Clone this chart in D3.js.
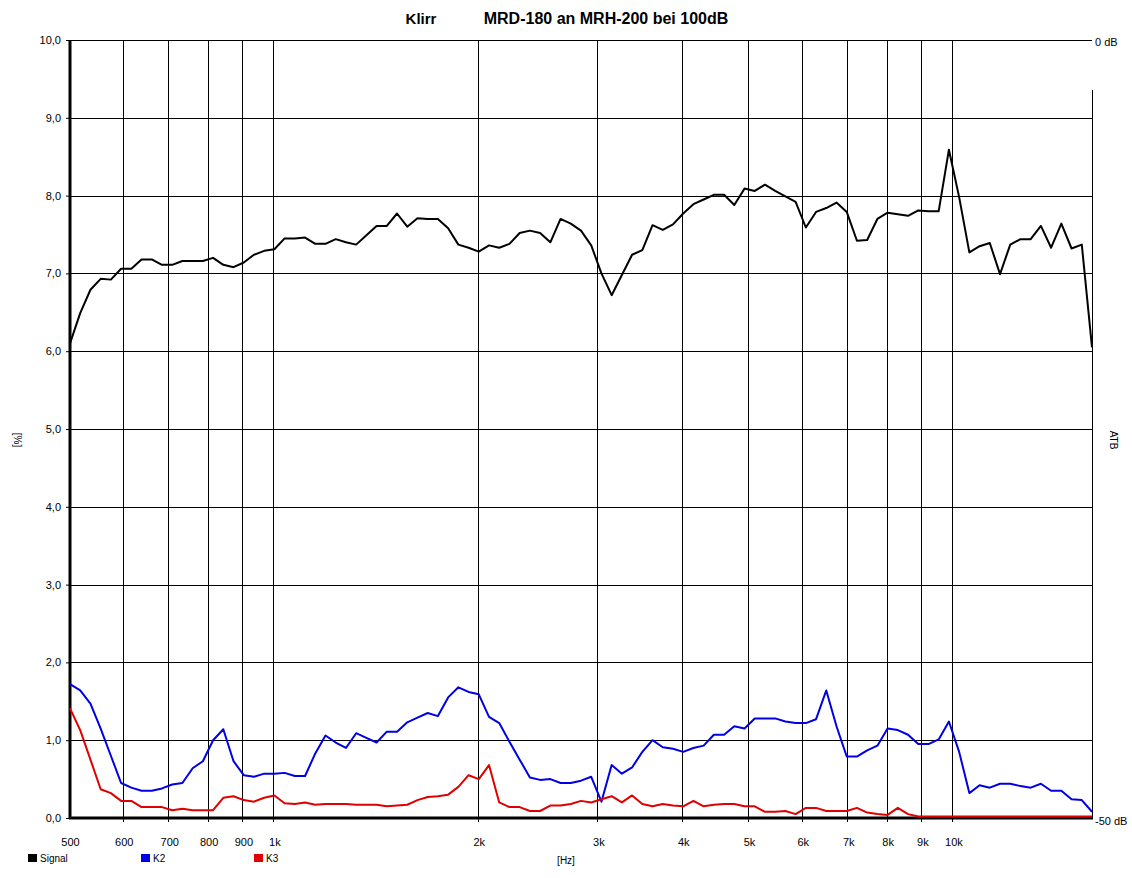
<!DOCTYPE html>
<html>
<head>
<meta charset="utf-8">
<script src="https://cdn.jsdelivr.net/npm/d3@7"></script>
<style>
  html, body { margin: 0; padding: 0; background: #fff; }
  svg { display: block; font-family: "Liberation Sans", Arial, sans-serif; }
</style>
</head>
<body>
<svg id="chart" width="1132" height="878"></svg>
<script>
// ---- Data (1/20-octave frequency grid, 500 Hz .. 16 kHz) ----
const frequencies = [
  500, 517.6, 535.9, 554.8, 574.3, 594.6, 615.6, 637.3, 659.8, 683.0,
  707.1, 732.0, 757.9, 784.6, 812.3, 840.9, 870.6, 901.3, 933.0, 965.9,
  1000, 1035.3, 1071.8, 1109.6, 1148.7, 1189.2, 1231.1, 1274.6, 1319.5, 1366.1,
  1414.2, 1464.1, 1515.7, 1569.2, 1624.5, 1681.8, 1741.1, 1802.5, 1866.1, 1931.9,
  2000, 2070.5, 2143.5, 2219.1, 2297.4, 2378.4, 2462.3, 2549.1, 2639.0, 2732.1,
  2828.4, 2928.2, 3031.4, 3138.4, 3249.0, 3363.6, 3482.2, 3605.0, 3732.2, 3863.8,
  4000, 4141.0, 4287.1, 4438.2, 4594.8, 4756.8, 4924.6, 5098.2, 5278.0, 5464.2,
  5656.9, 5856.4, 6062.9, 6276.7, 6498.0, 6727.2, 6964.4, 7210.0, 7464.3, 7727.5,
  8000, 8282.1, 8574.2, 8876.6, 9189.6, 9513.7, 9849.2, 10196.5, 10556.1, 10928.3,
  11313.7, 11712.7, 12125.7, 12553.3, 12996.0, 13454.3, 13928.8, 14420.0, 14928.5, 15455.0,
  16000
];

const signalValues = [
  6.10, 6.49, 6.79, 6.93, 6.92, 7.06, 7.06, 7.18, 7.18, 7.11,
  7.11, 7.16, 7.16, 7.16, 7.20, 7.11, 7.08, 7.14, 7.24, 7.29,
  7.31, 7.45, 7.45, 7.46, 7.38, 7.38, 7.44, 7.40, 7.37, 7.49,
  7.61, 7.61, 7.77, 7.60, 7.71, 7.70, 7.70, 7.58, 7.37, 7.33,
  7.28, 7.36, 7.33, 7.38, 7.52, 7.55, 7.52, 7.40, 7.70, 7.64,
  7.55, 7.36, 7.00, 6.72, 6.98, 7.24, 7.30, 7.62, 7.56, 7.63,
  7.77, 7.89, 7.95, 8.01, 8.01, 7.88, 8.09, 8.06, 8.14, 8.06,
  7.99, 7.92, 7.59, 7.79, 7.84, 7.91, 7.79, 7.42, 7.43, 7.70,
  7.78, 7.76, 7.74, 7.81, 7.80, 7.80, 8.59, 7.98, 7.27, 7.35,
  7.39, 6.99, 7.37, 7.44, 7.44, 7.61, 7.33, 7.64, 7.32, 7.37,
  6.05
];

const k2Values = [
  1.72, 1.64, 1.47, 1.15, 0.80, 0.45, 0.39, 0.35, 0.35, 0.38,
  0.43, 0.45, 0.64, 0.73, 1.00, 1.14, 0.73, 0.55, 0.53, 0.57,
  0.57, 0.58, 0.54, 0.54, 0.83, 1.06, 0.97, 0.90, 1.09, 1.03,
  0.97, 1.11, 1.11, 1.23, 1.29, 1.35, 1.31, 1.55, 1.68, 1.62,
  1.59, 1.30, 1.22, 0.98, 0.75, 0.52, 0.49, 0.50, 0.45, 0.45,
  0.48, 0.53, 0.21, 0.68, 0.57, 0.65, 0.85, 1.00, 0.91, 0.89,
  0.85, 0.90, 0.93, 1.07, 1.07, 1.18, 1.15, 1.28, 1.28, 1.28,
  1.24, 1.22, 1.22, 1.27, 1.64, 1.18, 0.79, 0.79, 0.87, 0.93,
  1.15, 1.13, 1.07, 0.95, 0.95, 1.01, 1.24, 0.85, 0.32, 0.42,
  0.39, 0.44, 0.44, 0.41, 0.39, 0.44, 0.35, 0.35, 0.24, 0.23,
  0.08
];

const k3Values = [
  1.41, 1.13, 0.75, 0.37, 0.32, 0.22, 0.22, 0.14, 0.14, 0.14,
  0.10, 0.12, 0.10, 0.10, 0.10, 0.26, 0.28, 0.23, 0.21, 0.26,
  0.29, 0.19, 0.18, 0.20, 0.17, 0.18, 0.18, 0.18, 0.17, 0.17,
  0.17, 0.15, 0.16, 0.17, 0.23, 0.27, 0.28, 0.30, 0.40, 0.55,
  0.50, 0.68, 0.20, 0.14, 0.14, 0.09, 0.09, 0.16, 0.16, 0.18,
  0.22, 0.20, 0.24, 0.28, 0.20, 0.29, 0.18, 0.15, 0.18, 0.16,
  0.15, 0.22, 0.15, 0.17, 0.18, 0.18, 0.15, 0.15, 0.08, 0.08,
  0.09, 0.05, 0.13, 0.13, 0.09, 0.09, 0.09, 0.13, 0.07, 0.05,
  0.04, 0.13, 0.05, 0.02, 0.02, 0.02, 0.02, 0.02, 0.02, 0.02,
  0.02, 0.02, 0.02, 0.02, 0.02, 0.02, 0.02, 0.02, 0.02, 0.02,
  0.02
];

const xTickValues = [500, 600, 700, 800, 900, 1000, 2000, 3000, 4000, 5000, 6000, 7000, 8000, 9000, 10000];
const xTickLabels = ["500", "600", "700", "800", "900", "1k", "2k", "3k", "4k", "5k", "6k", "7k", "8k", "9k", "10k"];
const yTickValues = [0, 1, 2, 3, 4, 5, 6, 7, 8, 9, 10];
const yTickLabels = ["0,0", "1,0", "2,0", "3,0", "4,0", "5,0", "6,0", "7,0", "8,0", "9,0", "10,0"];

const seriesNames = ["Signal", "K2", "K3"];
const seriesColors = ["#000000", "#0000e6", "#e00000"];

// ---- Layout ----
const L = 70, R = 1092, T = 40, B = 818;
const svg = d3.select("#chart");

const x = d3.scaleLog().domain([500, 16000]).range([L, R]);
const y = d3.scaleLinear().domain([0, 10]).range([B, T]);

// Horizontal grid lines
svg.append("g")
  .selectAll("line")
  .data(yTickValues.filter(v => v > 0))
  .join("line")
  .attr("x1", L).attr("x2", R)
  .attr("y1", d => Math.round(y(d)) + 0.5).attr("y2", d => Math.round(y(d)) + 0.5)
  .attr("stroke", "#000").attr("stroke-width", 1);

// Vertical grid lines (extend slightly below the axis as ticks)
svg.append("g")
  .selectAll("line")
  .data(xTickValues.filter(v => v > 500))
  .join("line")
  .attr("x1", d => Math.round(x(d)) - 0.5).attr("x2", d => Math.round(x(d)) - 0.5)
  .attr("y1", T).attr("y2", B + 4)
  .attr("stroke", "#000").attr("stroke-width", 1);

// Right axis line (ATB)
svg.append("line")
  .attr("x1", R + 0.5).attr("x2", R + 0.5)
  .attr("y1", 90).attr("y2", B)
  .attr("stroke", "#000").attr("stroke-width", 1);

// Left axis via d3
const yAxis = d3.axisLeft(y)
  .tickValues(yTickValues)
  .tickFormat((d, i) => yTickLabels[i])
  .tickSize(4)
  .tickPadding(5);
const gy = svg.append("g").attr("transform", `translate(${L},0)`).call(yAxis);
gy.select(".domain").attr("stroke", "#000").attr("stroke-width", 3).attr("d", `M0,${T}V${B + 1}`);
gy.selectAll(".tick line").attr("stroke", "#000");
gy.selectAll(".tick text")
  .attr("font-size", 11).attr("fill", "#000")
  .attr("font-family", "Liberation Sans, Arial, sans-serif");

// Bottom axis via d3 (labels only; grid lines act as ticks)
const xAxis = d3.axisBottom(x)
  .tickValues(xTickValues)
  .tickFormat((d, i) => xTickLabels[i])
  .tickSize(0)
  .tickPadding(20);
const gx = svg.append("g").attr("transform", `translate(0,${B})`).call(xAxis);
gx.select(".domain").remove();
gx.selectAll(".tick text")
  .attr("font-size", 11).attr("fill", "#000")
  .attr("font-family", "Liberation Sans, Arial, sans-serif");
svg.append("line")
  .attr("x1", L - 1).attr("x2", R + 1)
  .attr("y1", B).attr("y2", B)
  .attr("stroke", "#000").attr("stroke-width", 3);

// Curves
const series = [signalValues, k2Values, k3Values];
const lineGen = d3.line()
  .x((d, i) => x(frequencies[i]))
  .y(d => y(d));

[1, 2, 0].forEach(si => {
  svg.append("path")
    .datum(series[si])
    .attr("d", lineGen)
    .attr("fill", "none")
    .attr("stroke", seriesColors[si])
    .attr("stroke-width", 2)
    .attr("stroke-linejoin", "round");
});

// Titles
svg.append("text").attr("x", 421).attr("y", 24)
  .attr("text-anchor", "middle").attr("font-size", 15).attr("font-weight", "bold")
  .text("Klirr");
svg.append("text").attr("x", 606).attr("y", 24)
  .attr("text-anchor", "middle").attr("font-size", 16).attr("font-weight", "bold")
  .text("MRD-180 an MRH-200 bei 100dB");

// Right axis labels
svg.append("text").attr("x", 1095).attr("y", 46).attr("font-size", 11).text("0 dB");
svg.append("text").attr("x", 1095).attr("y", 825).attr("font-size", 11).text("-50 dB");
svg.append("text")
  .attr("transform", "translate(1110,440) rotate(90)")
  .attr("text-anchor", "middle").attr("font-size", 10).text("ATB");
svg.append("text")
  .attr("transform", "translate(14,440) rotate(90)")
  .attr("text-anchor", "middle").attr("font-size", 10).text("[%]");

// Unit label
svg.append("text").attr("x", 566).attr("y", 864)
  .attr("text-anchor", "middle").attr("font-size", 10).text("[Hz]");

// Legend
const legendX = [28, 141, 254];
const lg = svg.append("g").selectAll("g").data(seriesNames).join("g")
  .attr("transform", (d, i) => `translate(${legendX[i]},854)`);
lg.append("rect").attr("width", 9).attr("height", 8)
  .attr("fill", (d, i) => seriesColors[i]);
lg.append("text").attr("x", 12).attr("y", 8).attr("font-size", 10).text(d => d);
</script>
</body>
</html>
